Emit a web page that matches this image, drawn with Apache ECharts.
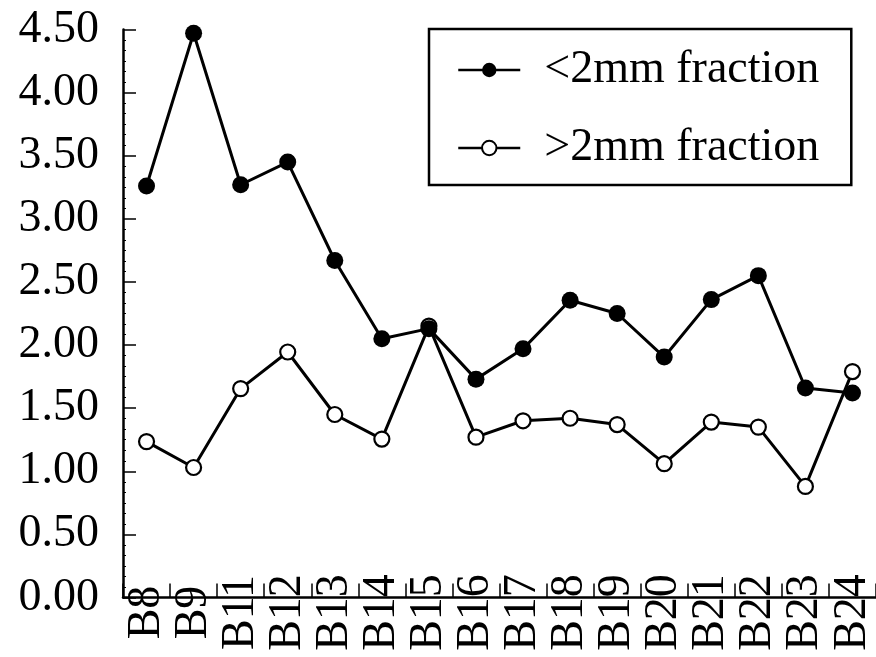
<!DOCTYPE html>
<html>
<head>
<meta charset="utf-8">
<script src="https://cdn.jsdelivr.net/npm/echarts@6/dist/echarts.min.js"></script>
<style>html,body{margin:0;padding:0;background:#fff}#c{width:876px;height:657px}</style>
</head>
<body>
<div id="c"></div>
<script>
var categories = ['B8','B9','B11','B12','B13','B14','B15','B16','B17','B18','B19','B20','B21','B22','B23','B24'];
var fine = [3.26,4.47,3.27,3.45,2.67,2.05,2.13,1.73,1.97,2.355,2.25,1.905,2.36,2.55,1.66,1.62];
var coarse = [1.235,1.03,1.655,1.945,1.45,1.255,2.15,1.27,1.40,1.42,1.37,1.06,1.39,1.35,0.88,1.79];
var seriesNames = ['<2mm fraction','>2mm fraction'];
var yTicks = {min:0, max:4.5, interval:0.5};

var FONT = 'Liberation Serif';
var chart = echarts.init(document.getElementById('c'));
chart.setOption({
  animation:false,
  backgroundColor:'#fff',
  grid:{left:123, right:0, top:29.5, bottom:59.5},
  legend:{
    orient:'vertical', left:429, top:29,
    padding:[18,32,14,28],
    borderColor:'#000', borderWidth:2.5,
    itemWidth:62, itemHeight:18, itemGap:32,
    lineStyle:{width:2.5},
    textStyle:{fontFamily:FONT, fontSize:46, color:'#000', lineHeight:46, padding:[0,0,0,19]},
    data:seriesNames
  },
  xAxis:{
    type:'category', data:categories, boundaryGap:true,
    axisLine:{lineStyle:{color:'#000', width:2.5}},
    axisTick:{show:true, inside:true, length:14, lineStyle:{color:'#000', width:1.5}},
    axisLabel:{rotate:90, align:'center', verticalAlign:'middle', margin:15, interval:0,
      fontFamily:FONT, fontSize:46, color:'#000'},
    splitLine:{show:false}
  },
  yAxis:{
    type:'value', min:yTicks.min, max:yTicks.max, interval:yTicks.interval,
    axisLine:{show:true, lineStyle:{color:'#000', width:2.5}},
    axisTick:{show:true, inside:true, length:13, lineStyle:{color:'#000', width:1.5}},
    minorTick:{show:true, splitNumber:6, length:3, lineStyle:{color:'#000', width:1}},
    axisLabel:{margin:24, fontFamily:FONT, fontSize:46, color:'#000',
      formatter:function(v){return v.toFixed(2);}},
    splitLine:{show:false}
  },
  series:[
    {name:seriesNames[0], type:'line', data:fine, symbol:'circle', symbolSize:17,
      lineStyle:{color:'#000', width:3}, itemStyle:{color:'#000'}, z:3},
    {name:seriesNames[1], type:'line', data:coarse, symbol:'circle', symbolSize:15,
      lineStyle:{color:'#000', width:3}, itemStyle:{color:'#fff', borderColor:'#000', borderWidth:2.2}, z:2}
  ]
});
</script>
</body>
</html>
